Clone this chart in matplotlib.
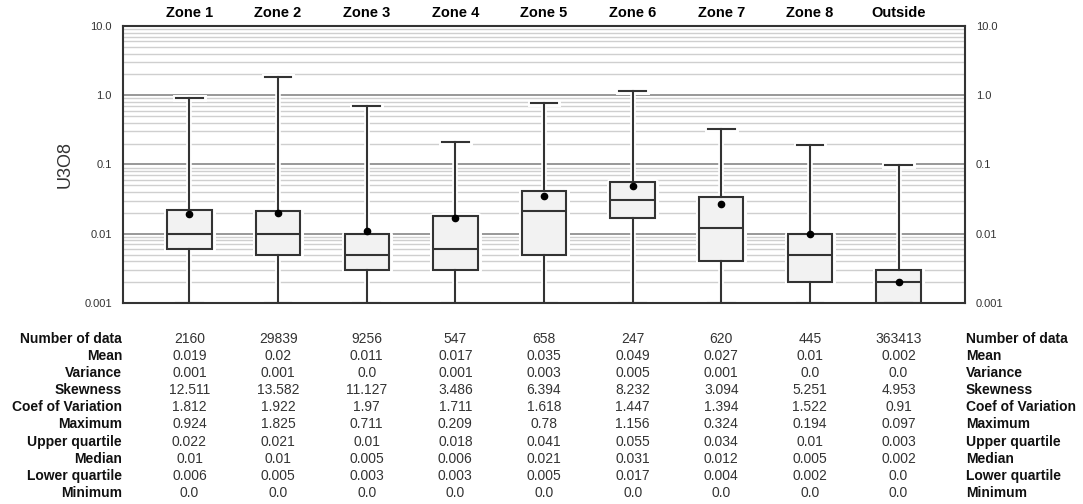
import numpy as np
import matplotlib
matplotlib.use('Agg')
import matplotlib.pyplot as plt
from matplotlib.transforms import blended_transform_factory

zones = ['Zone 1', 'Zone 2', 'Zone 3', 'Zone 4', 'Zone 5', 'Zone 6', 'Zone 7', 'Zone 8', 'Outside']
n_data = [2160, 29839, 9256, 547, 658, 247, 620, 445, 363413]
mean = [0.019, 0.02, 0.011, 0.017, 0.035, 0.049, 0.027, 0.01, 0.002]
variance = [0.001, 0.001, 0.0, 0.001, 0.003, 0.005, 0.001, 0.0, 0.0]
skewness = [12.511, 13.582, 11.127, 3.486, 6.394, 8.232, 3.094, 5.251, 4.953]
coef_var = [1.812, 1.922, 1.97, 1.711, 1.618, 1.447, 1.394, 1.522, 0.91]
maximum = [0.924, 1.825, 0.711, 0.209, 0.78, 1.156, 0.324, 0.194, 0.097]
upper_q = [0.022, 0.021, 0.01, 0.018, 0.041, 0.055, 0.034, 0.01, 0.003]
median = [0.01, 0.01, 0.005, 0.006, 0.021, 0.031, 0.012, 0.005, 0.002]
lower_q = [0.006, 0.005, 0.003, 0.003, 0.005, 0.017, 0.004, 0.002, 0.0]
minimum = [0.0, 0.0, 0.0, 0.0, 0.0, 0.0, 0.0, 0.0, 0.0]

row_names = ['Number of data', 'Mean', 'Variance', 'Skewness', 'Coef of Variation',
             'Maximum', 'Upper quartile', 'Median', 'Lower quartile', 'Minimum']
rows = [n_data, mean, variance, skewness, coef_var, maximum, upper_q, median, lower_q, minimum]

plt.rcParams['font.family'] = ['Liberation Sans', 'DejaVu Sans']

YMIN, YMAX = 0.001, 10.0
edge = '#333333'

fig = plt.figure(figsize=(10.83, 5.04), dpi=100)
ax = fig.add_axes([123 / 1083, 1 - 303 / 504, (965 - 123) / 1083, (303 - 26) / 504])

# log scale can't show zeros, clip to the bottom of the axis
stats = []
for i in range(len(zones)):
    stats.append(dict(
        med=median[i],
        q1=max(lower_q[i], YMIN),
        q3=upper_q[i],
        whislo=max(minimum[i], YMIN),
        whishi=maximum[i],
        mean=mean[i],
        fliers=[],
    ))

pos = np.arange(1, len(zones) + 1)

# white halo under the boxes so the grid breaks around them
white = dict(color='white', linewidth=5)
ax.bxp(stats, positions=pos, widths=0.5, showmeans=False, capwidths=0.3,
       boxprops=white, medianprops=white, whiskerprops=dict(color='white', linewidth=4),
       capprops=white, zorder=1.5)

bp = ax.bxp(stats, positions=pos, widths=0.5, showmeans=True, patch_artist=True,
            boxprops=dict(facecolor='#f2f2f2', edgecolor=edge, linewidth=1.5),
            medianprops=dict(color=edge, linewidth=1.5),
            whiskerprops=dict(color=edge, linewidth=1.5),
            capprops=dict(color=edge, linewidth=1.5),
            capwidths=0.3,
            meanprops=dict(marker='o', markerfacecolor='black', markeredgecolor='black',
                           markersize=4.5),
            zorder=2)

ax.set_yscale('log')
ax.set_ylim(YMIN, YMAX)
ax.set_xlim(0.25, len(zones) + 0.75)

ax.set_yticks([0.001, 0.01, 0.1, 1.0, 10.0])
ax.set_yticklabels(['0.001', '0.01', '0.1', '1.0', '10.0'])
ax.set_yticks([m * 10.0 ** e for e in range(-3, 1) for m in range(2, 10)], minor=True)
ax.yaxis.set_minor_formatter(plt.NullFormatter())
ax.grid(True, which='major', axis='y', color='#909090', linewidth=1.3, zorder=0)
ax.grid(True, which='minor', axis='y', color='#cfcfcf', linewidth=1.0, zorder=0)
ax.set_axisbelow(True)
ax.tick_params(axis='y', which='both', length=0, labelsize=8, labelcolor='#333333',
               left=True, right=True, labelleft=True, labelright=True, pad=8)

ax.xaxis.tick_top()
ax.set_xticks(pos)
ax.set_xticklabels(zones, fontsize=10.5, fontweight='bold')
ax.tick_params(axis='x', length=0, pad=4)

for s in ax.spines.values():
    s.set_color(edge)
    s.set_linewidth(1.5)

ax.set_ylabel('U3O8', fontsize=13, color='#333333', labelpad=8)

# statistics table under the plot
tr = blended_transform_factory(ax.transData, fig.transFigure)
y0 = 1 - 339 / 504
dy = 17.1 / 504
for r, (name, vals) in enumerate(zip(row_names, rows)):
    y = y0 - r * dy
    fig.text(122 / 1083, y, name, ha='right', va='center', fontsize=10,
             fontweight='bold', color='#111111')
    fig.text(966 / 1083, y, name, ha='left', va='center', fontsize=10,
             fontweight='bold', color='#111111')
    for p, v in zip(pos, vals):
        ax.text(p, y, str(v), transform=tr, ha='center', va='center',
                fontsize=10, color='#333333')

fig.savefig('out.png', dpi=100)
